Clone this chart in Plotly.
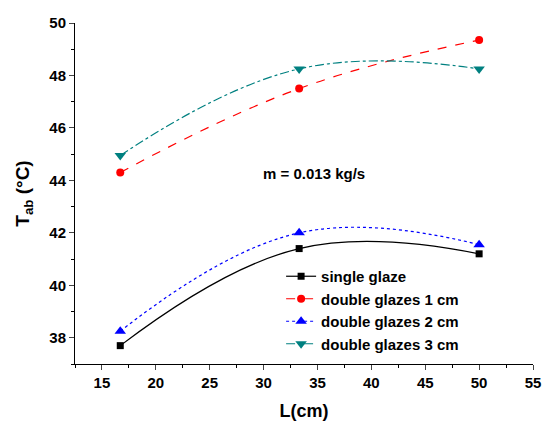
import plotly.graph_objects as go

L = [16.7, 33.3, 50.0]
single_glaze = [37.7, 41.4, 41.2]
double_1cm = [44.3, 47.5, 49.35]
double_2cm = [38.25, 42.0, 41.55]
double_3cm = [44.95, 48.25, 48.25]

FONT = "Arial, Liberation Sans, sans-serif"

fig = go.Figure()
series = [
    ("single glaze", single_glaze, "black", "solid", "square", 7),
    ("double glazes 1 cm", double_1cm, "red", "dash", "circle", 8),
    ("double glazes 2 cm", double_2cm, "blue", "dot", "triangle-up", 10),
    ("double glazes 3 cm", double_3cm, "#008080", "dashdot", "triangle-down", 10),
]
for name, y, c, dash, sym, sz in series:
    fig.add_trace(go.Scatter(
        x=L, y=y, name=name, mode="lines+markers",
        line=dict(color=c, width=1.2, dash=dash, shape="spline", smoothing=1.2),
        marker=dict(color=c, symbol=sym, size=sz),
    ))

fig.add_annotation(x=0.522, y=0.56, xref="paper", yref="paper",
                   text="<b>m = 0.013 kg/s</b>", showarrow=False,
                   font=dict(family=FONT, size=15, color="black"))

fig.update_layout(
    width=543, height=423,
    margin=dict(l=75, r=10, t=23, b=59),
    paper_bgcolor="white", plot_bgcolor="white",
    font=dict(family=FONT, color="black"),
    legend=dict(x=0.45, y=0.305, xanchor="left", yanchor="top",
                bgcolor="rgba(0,0,0,0)", tracegroupgap=0,
                font=dict(family=FONT, size=15, weight="bold"),
                itemwidth=30),
    xaxis=dict(range=[12.5, 55], tickmode="array", tickvals=[15, 20, 25, 30, 35, 40, 45, 50, 55],
               automargin=False,
               ticks="outside", ticklen=5, tickwidth=1, showline=True, linecolor="black",
               linewidth=1, showgrid=False, zeroline=False,
               minor=dict(ticks="outside", ticklen=3, dtick=2.5, tick0=12.5, tickcolor="black"),
               tickfont=dict(family=FONT, size=15, weight="bold"),
               title=dict(text="<b>L(cm)</b>", font=dict(family=FONT, size=18), standoff=14)),
    yaxis=dict(range=[37, 50], tickmode="array", tickvals=[38, 40, 42, 44, 46, 48, 50],
               automargin=False,
               ticks="outside", ticklen=5, tickwidth=1, showline=True, linecolor="black",
               linewidth=1, showgrid=False, zeroline=False,
               minor=dict(ticks="outside", ticklen=3, dtick=1, tick0=37, tickcolor="black"),
               tickfont=dict(family=FONT, size=15, weight="bold"),
               title=dict(text="<b>T<sub>ab</sub> (°C)</b>", font=dict(family=FONT, size=19), standoff=14)),
)

fig.write_html("out.html", config={"displayModeBar": False},
               post_script="document.body.style.margin='0';")
